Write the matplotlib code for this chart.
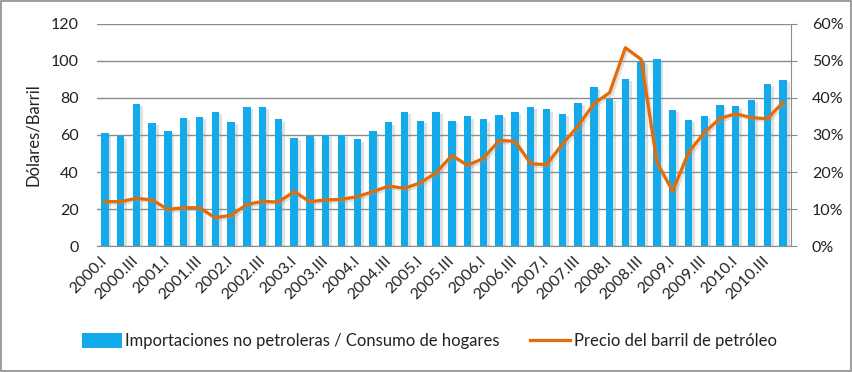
import numpy as np
import matplotlib
matplotlib.use('Agg')
import matplotlib.pyplot as plt
import matplotlib.patheffects as pe
from matplotlib.ticker import PercentFormatter
from matplotlib.patches import Patch
from matplotlib.lines import Line2D

# ---------- Data ----------
years = list(range(2000, 2011))
quarters = ['I', 'II', 'III', 'IV']
labels = [f'{y}.{q}' for y in years for q in quarters]

# importaciones no petroleras / consumo de hogares (%)
import_ratio = [30.5, 29.6, 38.5, 33.2, 31.2, 34.5, 34.8, 36.2, 33.6, 37.7, 37.5, 34.2,
                29.3, 29.8, 30.1, 29.9, 28.8, 31.1, 33.4, 36.3, 33.9, 36.3, 33.7, 35.0,
                34.2, 35.5, 36.2, 37.6, 36.9, 35.8, 38.6, 42.9, 39.8, 45.2, 49.8, 50.5,
                36.8, 34.1, 35.1, 38.0, 37.8, 39.5, 43.8, 44.9]

# precio del barril (USD)
oil_price = [24.0, 24.0, 25.8, 24.9, 19.8, 20.7, 20.7, 15.3, 16.6, 22.5, 24.1, 23.8,
             29.4, 24.0, 24.9, 25.2, 26.7, 29.4, 32.4, 31.2, 34.2, 39.6, 49.0, 43.6,
             47.4, 57.1, 56.6, 44.5, 44.0, 55.0, 64.9, 76.9, 82.9, 107.2, 100.9, 45.0,
             29.7, 50.5, 61.3, 69.0, 71.5, 69.4, 68.8, 77.8]

# ---------- Style ----------
plt.rcParams['font.family'] = ['Lato', 'DejaVu Sans']
bar_color = '#12AAEB'
line_color = '#E36C09'
txt_color = '#222222'
grid_color = '#8c8c8c'
fs = 11.5

fig = plt.figure(figsize=(8.53, 3.72), dpi=100)
fig.patches.append(plt.Rectangle((0.001, 0.002), 0.997, 0.995, transform=fig.transFigure,
                                 fill=False, edgecolor=grid_color, linewidth=1.2))

ax = fig.add_axes([0.1137, 0.3387, 0.8136, 0.5968])
ax2 = ax.twinx()
x = np.arange(len(labels))

# ---------- Bars (right axis, %) ----------
bars = ax.bar(x, import_ratio, width=0.47, color=bar_color, zorder=2)
for b in bars:
    b.set_path_effects([pe.SimplePatchShadow(offset=(2, -1.5), shadow_rgbFace='#999999', alpha=0.3),
                        pe.Normal()])
ax.set_ylim(0, 60)
ax.set_xlim(-0.5, len(labels) - 0.5)
ax.yaxis.tick_right()
ax.yaxis.set_major_formatter(PercentFormatter(decimals=0))
ax.set_yticks(np.arange(0, 61, 10))
ax.grid(axis='y', color=grid_color, linewidth=1)
ax.set_axisbelow(True)
for s in ['top', 'left']:
    ax.spines[s].set_visible(False)
ax.spines['right'].set_color(grid_color)
ax.spines['bottom'].set_color(grid_color)
ax.tick_params(axis='y', colors=grid_color, labelcolor=txt_color, length=4, labelsize=fs, pad=11)
ax.set_xticks(x[::2])
ax.set_xticklabels(labels[::2], rotation=45, ha='right', va='center', rotation_mode='anchor',
                   color=txt_color, fontsize=fs)
ax.tick_params(axis='x', length=0, pad=9)

# ---------- Line (left axis, USD) ----------
ax2.plot(x, oil_price, color=line_color, linewidth=2.3, solid_joinstyle='round',
         path_effects=[pe.SimpleLineShadow(offset=(1.5, -1.5), shadow_color='#999999', alpha=0.3),
                       pe.Normal()])
ax2.set_ylim(0, 120)
ax2.set_yticks(np.arange(0, 121, 20))
ax2.yaxis.tick_left()
ax2.yaxis.set_label_position('left')
ax2.set_ylabel('Dólares/Barril', fontsize=12, color=txt_color, labelpad=7)
for s in ax2.spines.values():
    s.set_visible(False)
ax2.tick_params(axis='y', length=0, labelcolor=txt_color, labelsize=fs, pad=13)

# ---------- Legend ----------
handles = [Patch(facecolor=bar_color, edgecolor='none'),
           Line2D([0], [0], color=line_color, linewidth=2.3)]
fig.legend(handles, ['Importaciones no petroleras / Consumo de hogares', 'Precio del barril de petróleo'],
           loc='center', bbox_to_anchor=(0.503, 0.083), ncol=2, frameon=False, fontsize=12,
           handlelength=2.4, handleheight=1.0, handletextpad=0.2, columnspacing=1.85,
           labelcolor=txt_color)

plt.savefig('out.png', dpi=100)
